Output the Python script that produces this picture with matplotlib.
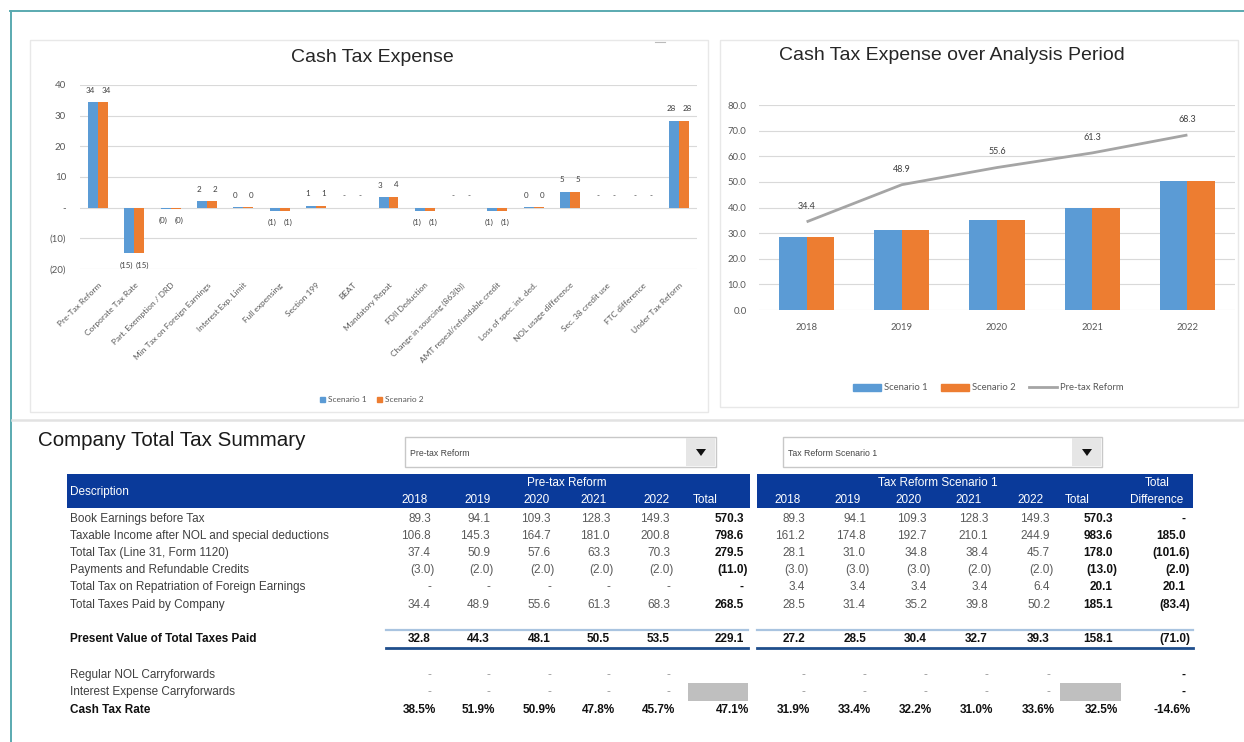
import matplotlib
matplotlib.use("Agg")
import matplotlib.pyplot as plt
from matplotlib.patches import Rectangle, Polygon, Patch
from matplotlib.lines import Line2D
from matplotlib.ticker import FuncFormatter

W, H = 1244, 742

# ---------------- data ----------------
waterfall_items = ["Pre-Tax Reform", "Corporate Tax Rate", "Part. Exemption / DRD",
                   "Min Tax on Foreign Earnings", "Interest Exp. Limit", "Full expensing",
                   "Section 199", "BEAT", "Mandatory Repat", "FDII Deduction",
                   "Change in sourcing (863(b))", "AMT repeal/refundable credit",
                   "Loss of spec. int. ded.", "NOL usage difference", "Sec. 38 credit use",
                   "FTC difference", "Under Tax Reform"]
impact_scenario1 = [34.4, -14.8, -0.3, 2.1, 0.2, -1.0, 0.6, 0.0, 3.4, -1.0, 0.0, -1.0, 0.2, 5.2, 0.0, 0.0, 28.4]
impact_scenario2 = [34.4, -14.8, -0.3, 2.1, 0.2, -1.0, 0.6, 0.0, 3.6, -1.0, 0.0, -1.0, 0.2, 5.2, 0.0, 0.0, 28.4]
waterfall_ticks = [40, 30, 20, 10, 0, -10, -20]

years = ["2018", "2019", "2020", "2021", "2022"]
taxes_paid_scenario1 = [28.5, 31.4, 35.2, 39.8, 50.2]
taxes_paid_scenario2 = [28.5, 31.4, 35.2, 39.8, 50.2]
taxes_paid_pretax = [34.4, 48.9, 55.6, 61.3, 68.3]
period_ticks = [0, 10, 20, 30, 40, 50, 60, 70, 80]

row_labels = ["Book Earnings before Tax",
              "Taxable Income after NOL and special deductions",
              "Total Tax (Line 31, Form 1120)",
              "Payments and Refundable Credits",
              "Total Tax on Repatriation of Foreign Earnings",
              "Total Taxes Paid by Company",
              "Present Value of Total Taxes Paid",
              "Regular NOL Carryforwards",
              "Interest Expense Carryforwards",
              "Cash Tax Rate"]
# five years + total (None = blank cell)
pretax_book_earnings = [89.3, 94.1, 109.3, 128.3, 149.3, 570.3]
pretax_taxable_income = [106.8, 145.3, 164.7, 181.0, 200.8, 798.6]
pretax_total_tax = [37.4, 50.9, 57.6, 63.3, 70.3, 279.5]
pretax_payments = [-3.0, -2.0, -2.0, -2.0, -2.0, -11.0]
pretax_repatriation = [0, 0, 0, 0, 0, 0]
pretax_taxes_paid = [34.4, 48.9, 55.6, 61.3, 68.3, 268.5]
pretax_present_value = [32.8, 44.3, 48.1, 50.5, 53.5, 229.1]
pretax_nol = [0, 0, 0, 0, 0, None]
pretax_interest = [0, 0, 0, 0, 0, None]
pretax_cash_rate = [38.5, 51.9, 50.9, 47.8, 45.7, 47.1]

scen1_book_earnings = [89.3, 94.1, 109.3, 128.3, 149.3, 570.3]
scen1_taxable_income = [161.2, 174.8, 192.7, 210.1, 244.9, 983.6]
scen1_total_tax = [28.1, 31.0, 34.8, 38.4, 45.7, 178.0]
scen1_payments = [-3.0, -3.0, -3.0, -2.0, -2.0, -13.0]
scen1_repatriation = [3.4, 3.4, 3.4, 3.4, 6.4, 20.1]
scen1_taxes_paid = [28.5, 31.4, 35.2, 39.8, 50.2, 185.1]
scen1_present_value = [27.2, 28.5, 30.4, 32.7, 39.3, 158.1]
scen1_nol = [0, 0, 0, 0, 0, None]
scen1_interest = [0, 0, 0, 0, 0, None]
scen1_cash_rate = [31.9, 33.4, 32.2, 31.0, 33.6, 32.5]

total_difference = [0, 185.0, -101.6, -2.0, 20.1, -83.4, -71.0, 0, 0, -14.6]

pretax_rows = [pretax_book_earnings, pretax_taxable_income, pretax_total_tax, pretax_payments,
               pretax_repatriation, pretax_taxes_paid, pretax_present_value, pretax_nol,
               pretax_interest, pretax_cash_rate]
scen1_rows = [scen1_book_earnings, scen1_taxable_income, scen1_total_tax, scen1_payments,
              scen1_repatriation, scen1_taxes_paid, scen1_present_value, scen1_nol,
              scen1_interest, scen1_cash_rate]

# ---------------- style ----------------
BLUE = "#5B9BD5"
ORANGE = "#ED7D31"
LGRAY = "#A5A5A5"
TICK = "#595959"
BAND = "#0A3A9A"
CHART_FONT = ["Lato", "DejaVu Sans"]
SANS = ["Liberation Sans", "DejaVu Sans"]

fig = plt.figure(figsize=(W / 100, H / 100), dpi=100)
fig.patch.set_facecolor("white")


def fx(x):
    return x / W


def fy(y):
    return 1 - y / H


def rect(x0, y0, x1, y1, **kw):
    fig.add_artist(Rectangle((fx(x0), fy(y1)), (x1 - x0) / W, (y1 - y0) / H,
                             transform=fig.transFigure, **kw))


def hline(x0, x1, y, **kw):
    fig.add_artist(Line2D([fx(x0), fx(x1)], [fy(y), fy(y)], transform=fig.transFigure, **kw))


def vline(x, y0, y1, **kw):
    fig.add_artist(Line2D([fx(x), fx(x)], [fy(y0), fy(y1)], transform=fig.transFigure, **kw))


def T(x, y, s, **kw):
    kw.setdefault("family", SANS)
    fig.text(fx(x), fy(y), s, **kw)


# outer frame and panels
hline(10, 1244, 11, color="#5AAAB0", lw=1.4)
vline(11, 11, 742, color="#5AAAB0", lw=1.4)
rect(30, 40, 708, 412, facecolor="none", edgecolor="#E8E8E8", lw=1.0)
rect(720, 40, 1238, 407, facecolor="none", edgecolor="#E8E8E8", lw=1.0)
hline(12, 1244, 420, color="#E2E2E2", lw=1.8)
hline(655, 665, 42, color="#BBBBBB", lw=0.8)

# ---------------- left chart: Cash Tax Expense ----------------
axL = fig.add_axes([fx(80), fy(269), (697 - 80) / W, (269 - 85) / H])
xs = list(range(len(waterfall_items)))
bw = 0.275
axL.bar([x - bw / 2 for x in xs], impact_scenario1, width=bw, color=BLUE, zorder=2)
axL.bar([x + bw / 2 for x in xs], impact_scenario2, width=bw, color=ORANGE, zorder=2)
axL.set_xlim(-0.5, len(xs) - 0.5)
axL.set_ylim(-20, 40)
axL.set_yticks(waterfall_ticks)


def tick_int(v, pos=None):
    r = int(round(v))
    if r == 0:
        return "-"
    return f"({abs(r)})" if r < 0 else f"{r}"


def label_int(v):
    if v == 0:
        return "-"
    r = abs(int(round(v)))
    return f"({r})" if v < 0 else f"{r}"


axL.yaxis.set_major_formatter(FuncFormatter(tick_int))
axL.yaxis.grid(True, color="#D9D9D9", lw=0.8)
axL.set_axisbelow(True)
for s in axL.spines.values():
    s.set_visible(False)
axL.tick_params(axis="both", length=0, colors=TICK)
axL.tick_params(axis="y", pad=10, labelsize=7)
axL.set_xticks(xs)
axL.set_xticklabels(waterfall_items, rotation=45, ha="right", rotation_mode="anchor",
                    fontsize=6, color=TICK, family=CHART_FONT)
axL.tick_params(axis="x", pad=9)
for lab in axL.get_yticklabels():
    lab.set_family(CHART_FONT)
for series, off, dx in ((impact_scenario1, -bw / 2, -2.2), (impact_scenario2, bw / 2, 2.2)):
    for x, v in zip(xs, series):
        neg = v < 0
        axL.annotate(label_int(v), (x + off, v), xytext=(dx, -6 if neg else 6),
                     textcoords="offset points", ha="center",
                     va="top" if neg else "bottom", fontsize=5.8, color="#404040",
                     family=CHART_FONT)
T(372, 58, "Cash Tax Expense", ha="center", va="center", fontsize=14, color="#262626")
axL.legend(handles=[Patch(color=BLUE, label="Scenario 1"), Patch(color=ORANGE, label="Scenario 2")],
           loc="center", bbox_to_anchor=(fx(372), fy(400)), bbox_transform=fig.transFigure,
           ncol=2, frameon=False, handlelength=0.6, handleheight=0.6,
           handletextpad=0.4, columnspacing=1.2, labelcolor=TICK,
           prop={"family": CHART_FONT, "size": 6})

# ---------------- right chart: over analysis period ----------------
axR = fig.add_axes([fx(759), fy(310), (1235 - 759) / W, (310 - 105) / H])
yx = list(range(len(years)))
bw2 = 0.29
axR.bar([x - bw2 / 2 for x in yx], taxes_paid_scenario1, width=bw2, color=BLUE, zorder=2,
        label="Scenario 1")
axR.bar([x + bw2 / 2 for x in yx], taxes_paid_scenario2, width=bw2, color=ORANGE, zorder=2,
        label="Scenario 2")
axR.plot(yx, taxes_paid_pretax, color=LGRAY, lw=2.0, zorder=3, label="Pre-tax Reform",
         solid_capstyle="butt")
for x, v in zip(yx, taxes_paid_pretax):
    axR.annotate(f"{v:.1f}", (x, v), xytext=(0, 8), textcoords="offset points",
                 ha="center", va="bottom", fontsize=6.5, color="#404040", family=CHART_FONT)
axR.set_xlim(-0.5, len(years) - 0.5)
axR.set_ylim(0, 80)
axR.set_yticks(period_ticks)
axR.yaxis.set_major_formatter(FuncFormatter(lambda v, p: f"{v:.1f}"))
axR.set_xticks(yx)
axR.set_xticklabels(years)
axR.yaxis.grid(True, color="#D9D9D9", lw=0.8)
axR.set_axisbelow(True)
for s in axR.spines.values():
    s.set_visible(False)
axR.tick_params(axis="both", length=0, colors=TICK, labelsize=6.8)
axR.tick_params(axis="y", pad=9)
axR.tick_params(axis="x", pad=9)
for lab in axR.get_yticklabels() + axR.get_xticklabels():
    lab.set_family(CHART_FONT)
T(952, 56, "Cash Tax Expense over Analysis Period", ha="center", va="center",
  fontsize=14, color="#262626")
axR.legend(handles=[Patch(color=BLUE, label="Scenario 1"), Patch(color=ORANGE, label="Scenario 2"),
                    Line2D([], [], color=LGRAY, lw=2, label="Pre-tax Reform")],
           loc="center", bbox_to_anchor=(fx(988), fy(388)), bbox_transform=fig.transFigure,
           ncol=3, frameon=False, handlelength=3.0, handleheight=0.8, handletextpad=0.3,
           columnspacing=1.4, labelcolor=TICK, prop={"family": CHART_FONT, "size": 6.8})

# ---------------- table ----------------
T(38, 440, "Company Total Tax Summary", ha="left", va="center", fontsize=14.8, color="#1a1a1a")


def dropdown(x0, x1, label):
    rect(x0, 437, x1, 467, facecolor="white", edgecolor="#C8C8C8", lw=1.0)
    rect(x1 - 30, 438, x1 - 1, 466, facecolor="#E6E6E6", edgecolor="none")
    cx = x1 - 15
    fig.add_artist(Polygon([(fx(cx - 5), fy(449)), (fx(cx + 5), fy(449)), (fx(cx), fy(456))],
                           closed=True, transform=fig.transFigure, facecolor="#111111",
                           edgecolor="none"))
    T(x0 + 5, 453, label, ha="left", va="center", fontsize=6.3, color="#444444")


dropdown(405, 716, "Pre-tax Reform")
dropdown(783, 1102, "Tax Reform Scenario 1")

rect(67, 474, 750, 508, facecolor=BAND, edgecolor="none")
rect(757, 474, 1193, 508, facecolor=BAND, edgecolor="none")
T(70, 492, "Description", ha="left", va="center", fontsize=8.5, color="white")
T(567, 483, "Pre-tax Reform", ha="center", va="center", fontsize=8.5, color="white")
T(938, 483, "Tax Reform Scenario 1", ha="center", va="center", fontsize=8.5, color="white")
T(1157, 483, "Total", ha="center", va="center", fontsize=8.5, color="white")
T(1157, 500, "Difference", ha="center", va="center", fontsize=8.5, color="white")

left_cols = [431, 490, 551, 610, 670, 744]
right_cols = [805, 866, 927, 988, 1050, 1113]
diff_col = 1186
left_head = [415, 478, 537, 594, 657, 705]
right_head = [788, 848, 909, 969, 1030, 1077]
for cx, lab in zip(left_head, years + ["Total"]):
    T(cx, 500, lab, ha="center", va="center", fontsize=8.5, color="white")
for cx, lab in zip(right_head, years + ["Total"]):
    T(cx, 500, lab, ha="center", va="center", fontsize=8.5, color="white")

row_y = [519, 536, 553, 570, 587, 605, 639, 675, 692, 710]
bold_rows = {6, 9}
pct_rows = {9}


def put_val(R, y, v, bold, pct, color):
    if v is None:
        return
    if pct:
        s, x = f"{v:.1f}%", R + 5
    elif v == 0:
        s, x = "-", R
    elif v < 0:
        s, x = f"({abs(v):,.1f})", R + 4
    else:
        s, x = f"{v:,.1f}", R
    T(x, y, s, ha="right", va="center", fontsize=8.5, color=color,
      fontweight="bold" if bold else "normal")


for i, (lab, y) in enumerate(zip(row_labels, row_y)):
    rb = i in bold_rows
    T(70, y, lab, ha="left", va="center", fontsize=8.5,
      color="#111111" if rb else "#404040", fontweight="bold" if rb else "normal")
    pct = i in pct_rows
    for data, cols in ((pretax_rows[i], left_cols), (scen1_rows[i], right_cols)):
        for j, (v, R) in enumerate(zip(data, cols)):
            is_total = j == 5
            bold = rb or is_total
            color = "#111111" if bold else "#5a5a5a"
            if v == 0 and not bold and i in (7, 8):
                color = "#9a9a9a"
            put_val(R, y, v, bold, pct, color)
    put_val(diff_col, y, total_difference[i], True, pct, "#111111")

# present value row rules
for x0, x1 in ((386, 748), (757, 1193)):
    hline(x0, x1, 630, color="#A9C4E0", lw=1.6)
    hline(x0, x1, 648, color="#1F4E8C", lw=2.0)

# gray boxes in Total column
rect(688, 683, 748, 701, facecolor="#BFBFBF", edgecolor="none")
rect(1060, 683, 1121, 701, facecolor="#BFBFBF", edgecolor="none")

fig.savefig("out.png", dpi=100, facecolor="white")
